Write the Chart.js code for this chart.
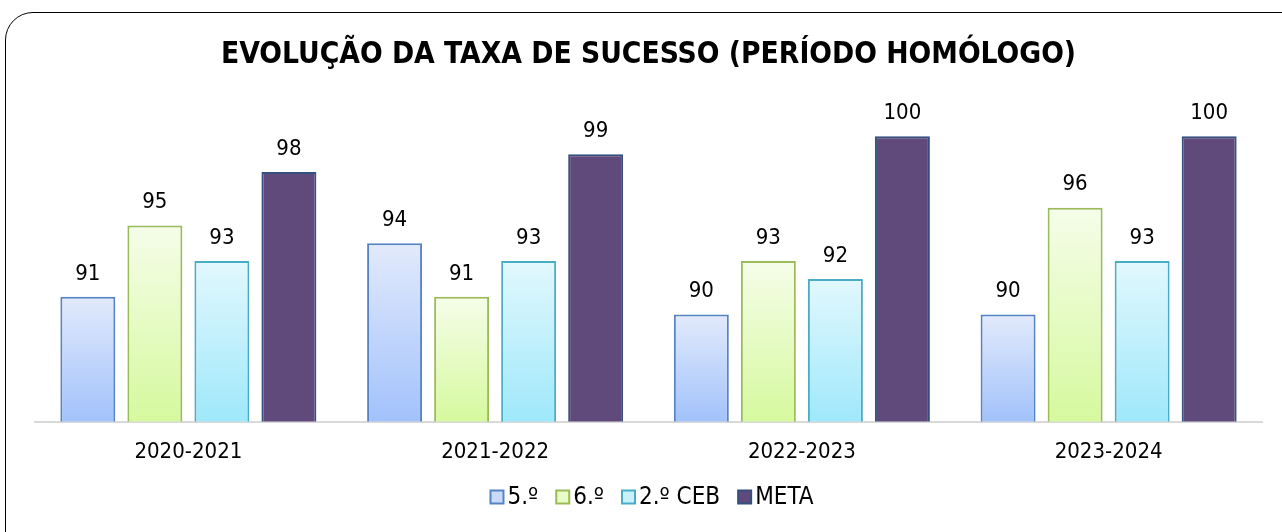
<!DOCTYPE html>
<html><head><meta charset="utf-8">
<script src="https://cdn.jsdelivr.net/npm/chart.js@4.4.1/dist/chart.umd.min.js"></script>
<style>
html,body{margin:0;padding:0;background:#fff;overflow:hidden;}
#frame{position:absolute;left:5px;top:12px;width:1310px;height:560px;border:1.6px solid #000;border-radius:28px;box-sizing:border-box;}
#wrap{position:absolute;left:0;top:0;width:1282px;height:532px;}
</style></head><body>
<div id="frame"></div>
<div id="wrap"><canvas id="c" width="1282" height="532"></canvas></div>
<script>
const categories = ["2020-2021","2021-2022","2022-2023","2023-2024"];
const seriesNames = ["5.º","6.º","2.º CEB","META"];
const v5 = [91,94,90,90];
const v6 = [95,91,93,96];
const vCEB = [93,93,92,93];
const vMeta = [98,99,100,100];

const FONT = "'DejaVu Sans Condensed','DejaVu Sans',sans-serif";
const styles = [
  {top:'#e2eafc',bottom:'#a2c2fb',border:'#5683c3',legend:'#c9d9f8'},
  {top:'#f5fde9',bottom:'#d6f99e',border:'#9bbb59',legend:'#e6fbc6'},
  {top:'#e2f8fd',bottom:'#9fe8fb',border:'#4bacc6',legend:'#c9f1fc'},
  {top:'#604a7b',bottom:'#604a7b',border:'#35507e',legend:'#604a7b'}
];
function grad(i){
  return function(ctx){
    const chart=ctx.chart; const s=styles[i];
    if(!chart.chartArea || ctx.type!=='data') return s.legend;
    const ys=chart.scales.y;
    const top=ys.getPixelForValue(ctx.raw), bot=ys.getPixelForValue(ys.min);
    const g=chart.ctx.createLinearGradient(0,top,0,bot);
    g.addColorStop(0,s.top); g.addColorStop(1,s.bottom);
    return g;
  };
}
const allSeries=[v5,v6,vCEB,vMeta];
const datasets = allSeries.map((d,i)=>({
  label:seriesNames[i], data:d, backgroundColor:grad(i), borderColor:styles[i].border,
  borderWidth:2, borderSkipped:'bottom', categoryPercentage:0.874, barPercentage:0.82
}));

const valueLabels={
  id:'valueLabels',
  afterDatasetsDraw(chart){
    const c=chart.ctx; c.save();
    c.font="22px "+FONT; c.fillStyle='#000'; c.textAlign='center'; c.textBaseline='middle';
    chart.data.datasets.forEach((ds,i)=>{
      chart.getDatasetMeta(i).data.forEach((bar,j)=>{
        c.fillText(String(ds.data[j]), bar.x, bar.y-23);
      });
    });
    c.restore();
  }
};

// compact legend (box right next to text), drawn from the datasets
const compactLegend={
  id:'compactLegend',
  afterDraw(chart){
    const c=chart.ctx; c.save();
    c.font="24px "+FONT; c.textBaseline='middle'; c.textAlign='left';
    const box=13, gapBoxText=4, gapItems=18, yc=497;
    const items=chart.data.datasets.map((ds,i)=>({text:ds.label,i,w:box+gapBoxText+c.measureText(ds.label).width}));
    const total=items.reduce((a,it)=>a+it.w,0)+gapItems*(items.length-1);
    let x=(chart.width-total)/2+11;
    items.forEach(it=>{
      const s=styles[it.i];
      c.fillStyle=s.legend; c.fillRect(x,yc-box/2,box,box);
      c.strokeStyle=s.border; c.lineWidth=2; c.strokeRect(x,yc-box/2,box,box);
      c.fillStyle='#000'; c.fillText(it.text,x+box+gapBoxText,yc+1);
      x+=it.w+gapItems;
    });
    c.restore();
  }
};

new Chart(document.getElementById('c'),{
  type:'bar',
  data:{labels:categories,datasets},
  plugins:[valueLabels,compactLegend],
  options:{
    responsive:false, animation:false,
    layout:{padding:{left:35,right:20,top:12,bottom:58}},
    plugins:{
      title:{display:true,text:'EVOLUÇÃO DA TAXA DE SUCESSO (PERÍODO HOMÓLOGO)',color:'#000',
        font:{family:FONT,size:29.7,weight:'bold'},padding:{top:25,bottom:28}},
      legend:{display:false},
      tooltip:{enabled:false}
    },
    scales:{
      x:{grid:{display:false},border:{display:true,color:'#d9d9d9',width:2},
        ticks:{color:'#000',font:{family:FONT,size:22},padding:9}},
      y:{display:false,min:84,max:102}
    }
  }
});
</script></body></html>
